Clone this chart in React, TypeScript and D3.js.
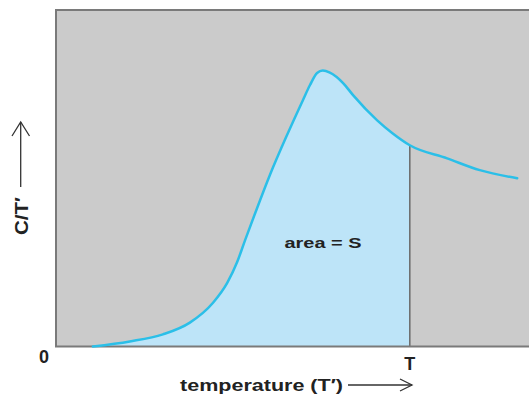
import { useEffect } from "react";
import * as d3 from "d3";

// temperature (T') in arbitrary units, 0..100 across the plot
const temperature = [
  7.8, 15.6, 22.6, 28.3, 33.2, 36.2, 38.3, 40.0, 42.1, 45.2, 48.8, 52.2, 53.7,
  55.2, 56.4, 57.9, 60.7, 62.8, 67.9, 71.2, 74.8, 82.7, 89.6, 97.5,
];
// C/T' in arbitrary units, 0..100 up the plot
const cOverT = [
  0, 1.5, 3.6, 7.1, 13.0, 18.9, 25.1, 31.7, 39.6, 50.9, 62.7, 73.2, 77.7, 81.3,
  82.0, 81.4, 78.3, 74.7, 67.2, 63.3, 59.8, 55.9, 52.4, 50.0,
];
const T_MARK = 74.8;
const xDomain = [0, 100];
const yDomain = [0, 100];

const W = 529;
const H = 395;
const FONT = "'Liberation Sans', Arial, Helvetica, sans-serif";

export default function App() {
  useEffect(() => {
    document.body.style.margin = "0";
  }, []);

  const left = 56;
  const right = 529;
  const top = 10;
  const bottom = 346.5;

  const x = d3.scaleLinear().domain(xDomain).range([left, right]);
  const y = d3.scaleLinear().domain(yDomain).range([bottom, top]);

  const points = temperature.map((t, i) => [t, cOverT[i]] as [number, number]);

  const line = d3
    .line<[number, number]>()
    .x((d) => x(d[0]))
    .y((d) => y(d[1]))
    .curve(d3.curveMonotoneX);

  const area = d3
    .area<[number, number]>()
    .x((d) => x(d[0]))
    .y0(y(0))
    .y1((d) => y(d[1]))
    .curve(d3.curveMonotoneX);

  const tIdx = temperature.indexOf(T_MARK);
  const tY = y(cOverT[tIdx]);

  return (
    <svg width={W} height={H} style={{ display: "block" }}>
      <defs>
        <clipPath id="upToT">
          <rect x={left} y={top} width={x(T_MARK) - left} height={bottom - top} />
        </clipPath>
      </defs>

      {/* plot background */}
      <rect x={left} y={top} width={right - left} height={bottom - top} fill="#cbcbcb" />

      {/* area under the curve up to T */}
      <path d={area(points) ?? ""} fill="#bde4f8" clipPath="url(#upToT)" />

      {/* vertical line at T */}
      <line x1={x(T_MARK)} x2={x(T_MARK)} y1={tY} y2={bottom} stroke="#6a6a6a" strokeWidth={1.5} />

      {/* frame */}
      <path
        d={`M${right},${top}H${left}V${bottom}H${right}`}
        fill="none"
        stroke="#7a7a7a"
        strokeWidth={2}
      />

      {/* curve */}
      <path d={line(points) ?? ""} fill="none" stroke="#2bbfe8" strokeWidth={2.5} strokeLinecap="round" />

      <text
        x={323}
        y={248}
        textAnchor="middle"
        fontFamily={FONT}
        fontWeight="bold"
        fontSize={15}
        fill="#222"
        textLength={77}
        lengthAdjust="spacingAndGlyphs"
      >
        area = S
      </text>

      {/* axis labels */}
      <text x={44} y={363} textAnchor="middle" fontFamily={FONT} fontWeight="bold" fontSize={18} fill="#222">
        0
      </text>
      <text x={x(T_MARK)} y={370} textAnchor="middle" fontFamily={FONT} fontWeight="bold" fontSize={18} fill="#222">
        T
      </text>

      <text
        x={180}
        y={391}
        fontFamily={FONT}
        fontWeight="bold"
        fontSize={17}
        fill="#222"
        textLength={163}
        lengthAdjust="spacingAndGlyphs"
      >
        temperature (T′)
      </text>
      <g stroke="#333" strokeWidth={1.3} fill="none">
        <line x1={348} x2={412} y1={385} y2={385} />
        <polyline points="400,379 412,385 400,391" />
      </g>

      <text
        transform="translate(28,216) rotate(-90)"
        textAnchor="middle"
        fontFamily={FONT}
        fontWeight="bold"
        fontSize={19}
        fill="#222"
        textLength={38}
        lengthAdjust="spacingAndGlyphs"
      >
        C/T′
      </text>
      <g stroke="#333" strokeWidth={1.3} fill="none">
        <line x1={20.7} x2={20.7} y1={187} y2={122} />
        <polyline points="12,136 20.7,122 29.5,136" />
      </g>
    </svg>
  );
}
